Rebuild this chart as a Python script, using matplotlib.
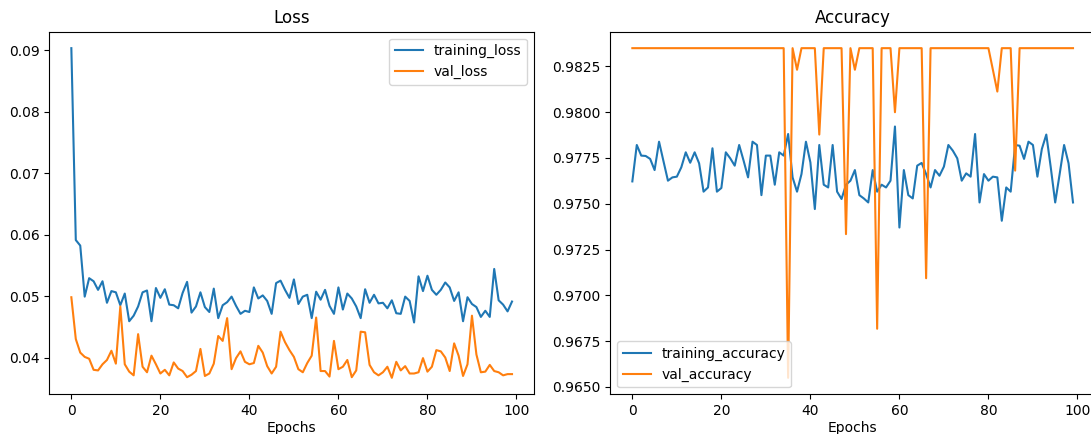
import numpy as np
import matplotlib
matplotlib.use("Agg")
import matplotlib.pyplot as plt

# values, one per epoch (0..99)
training_loss = [
    0.0903, 0.0591, 0.0582, 0.0499, 0.0529, 0.0524, 0.0510, 0.0524, 0.0489, 0.0508,
    0.0506, 0.0485, 0.0504, 0.0459, 0.0468, 0.0483, 0.0506, 0.0509, 0.0459, 0.0513,
    0.0497, 0.0511, 0.0486, 0.0485, 0.0480, 0.0505, 0.0523, 0.0473, 0.0483, 0.0506,
    0.0482, 0.0474, 0.0512, 0.0464, 0.0485, 0.0490, 0.0499, 0.0484, 0.0471, 0.0476,
    0.0474, 0.0514, 0.0496, 0.0501, 0.0492, 0.0471, 0.0521, 0.0525, 0.0510, 0.0497,
    0.0527, 0.0487, 0.0499, 0.0502, 0.0464, 0.0507, 0.0494, 0.0510, 0.0484, 0.0471,
    0.0514, 0.0478, 0.0504, 0.0496, 0.0483, 0.0464, 0.0511, 0.0489, 0.0502, 0.0488,
    0.0489, 0.0480, 0.0493, 0.0472, 0.0471, 0.0499, 0.0492, 0.0457, 0.0532, 0.0508,
    0.0533, 0.0510, 0.0502, 0.0510, 0.0522, 0.0514, 0.0492, 0.0506, 0.0459, 0.0498,
    0.0487, 0.0482, 0.0466, 0.0476, 0.0466, 0.0544, 0.0493, 0.0486, 0.0475, 0.0491,
]
val_loss = [
    0.0498, 0.0430, 0.0408, 0.0401, 0.0398, 0.0380, 0.0379, 0.0389, 0.0396, 0.0411,
    0.0390, 0.0483, 0.0389, 0.0377, 0.0371, 0.0438, 0.0385, 0.0376, 0.0403, 0.0389,
    0.0374, 0.0380, 0.0371, 0.0392, 0.0382, 0.0378, 0.0368, 0.0372, 0.0378, 0.0414,
    0.0370, 0.0374, 0.0390, 0.0435, 0.0427, 0.0464, 0.0381, 0.0399, 0.0410, 0.0393,
    0.0389, 0.0391, 0.0419, 0.0408, 0.0386, 0.0374, 0.0385, 0.0442, 0.0425, 0.0412,
    0.0401, 0.0381, 0.0376, 0.0391, 0.0403, 0.0465, 0.0378, 0.0378, 0.0369, 0.0427,
    0.0381, 0.0385, 0.0396, 0.0368, 0.0379, 0.0442, 0.0441, 0.0388, 0.0376, 0.0371,
    0.0376, 0.0385, 0.0367, 0.0393, 0.0379, 0.0386, 0.0374, 0.0374, 0.0376, 0.0399,
    0.0377, 0.0385, 0.0412, 0.0410, 0.0400, 0.0378, 0.0423, 0.0403, 0.0370, 0.0389,
    0.0468, 0.0405, 0.0376, 0.0377, 0.0388, 0.0378, 0.0376, 0.0371, 0.0373, 0.0373,
]
training_accuracy = [
    0.97622, 0.97821, 0.97763, 0.97761, 0.97745, 0.97684, 0.97839, 0.97732, 0.97626, 0.97644,
    0.97648, 0.97699, 0.97781, 0.97724, 0.97781, 0.97721, 0.97566, 0.97589, 0.97803, 0.97566,
    0.97586, 0.97781, 0.97748, 0.97708, 0.97821, 0.97735, 0.97644, 0.97839, 0.97821, 0.97547,
    0.97763, 0.97763, 0.97604, 0.97781, 0.97763, 0.97881, 0.97644, 0.97566, 0.97662, 0.97839,
    0.97726, 0.97471, 0.97821, 0.97604, 0.97589, 0.97821, 0.97566, 0.97526, 0.97604, 0.97626,
    0.97684, 0.97547, 0.97529, 0.97507, 0.97684, 0.97566, 0.97604, 0.97589, 0.97626, 0.97922,
    0.97370, 0.97684, 0.97547, 0.97529, 0.97708, 0.97723, 0.97662, 0.97589, 0.97684, 0.97653,
    0.97703, 0.97821, 0.97790, 0.97748, 0.97626, 0.97666, 0.97648, 0.97881, 0.97507, 0.97662,
    0.97626, 0.97648, 0.97644, 0.97407, 0.97589, 0.97566, 0.97821, 0.97817, 0.97745, 0.97839,
    0.97821, 0.97648, 0.97799, 0.97878, 0.97699, 0.97507, 0.97662, 0.97821, 0.97721, 0.97507,
]
# val accuracy sits at 0.9835 except for the dips
val_accuracy = [0.9835] * 100
val_dips = {35: 0.96549, 37: 0.98232, 42: 0.97878, 48: 0.97334, 50: 0.98232,
            55: 0.96817, 59: 0.98000, 66: 0.97093, 81: 0.98232, 82: 0.98113,
            86: 0.97681}
for ep, v in val_dips.items():
    val_accuracy[ep] = v

epochs = np.arange(len(training_loss))

fig = plt.figure(figsize=(10.91, 4.34), dpi=100)
ax1 = fig.add_axes([0.0452, 0.0915, 0.4443, 0.8355])
ax2 = fig.add_axes([0.5594, 0.0915, 0.4443, 0.8355])

ax1.plot(epochs, training_loss, label='training_loss')
ax1.plot(epochs, val_loss, label='val_loss')
ax1.set_title('Loss')
ax1.set_xlabel('Epochs', labelpad=2)
ax1.legend(loc='upper right')

ax2.plot(epochs, training_accuracy, label='training_accuracy')
ax2.plot(epochs, val_accuracy, label='val_accuracy')
ax2.set_title('Accuracy')
ax2.set_xlabel('Epochs', labelpad=2)
ax2.legend(loc='lower left')

fig.savefig('out.png', dpi=100)
